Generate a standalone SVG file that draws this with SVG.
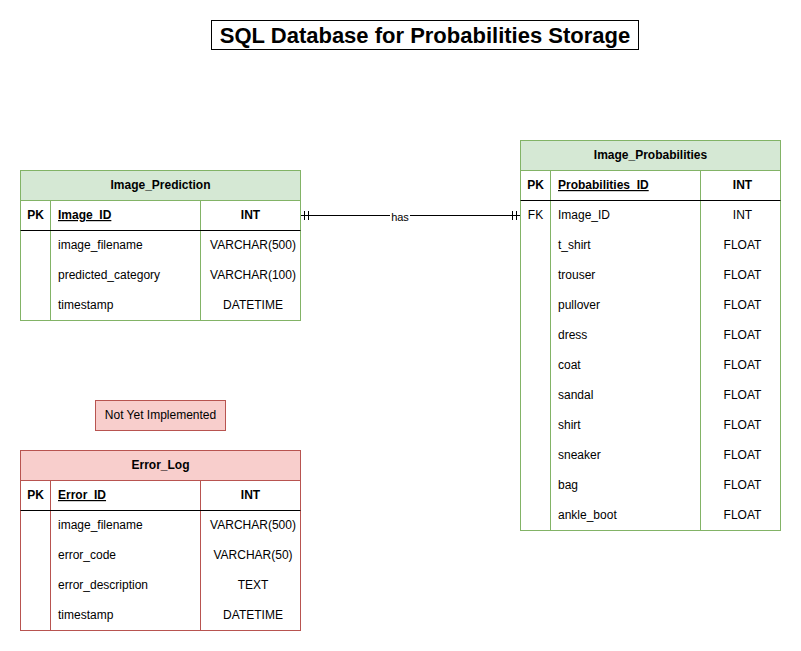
<svg xmlns="http://www.w3.org/2000/svg" width="801" height="651" viewBox="0 0 801 651">
<style>
text{font-family:"Liberation Sans",Arial,sans-serif;font-size:12px;fill:#000}
.b{font-weight:bold}
.c{text-anchor:middle}
.u{text-decoration:underline}
.g{fill:#fff;stroke:#82b366;stroke-width:1}
.gh{fill:#d5e8d4;stroke:#82b366;stroke-width:1}
.r{fill:#fff;stroke:#b85450;stroke-width:1}
.rh{fill:#f8cecc;stroke:#b85450;stroke-width:1}
.sg{stroke:#82b366;stroke-width:1}
.sr{stroke:#b85450;stroke-width:1}
.k{stroke:#000;stroke-width:1}
.t{font-size:22px;font-weight:bold}
</style>
<rect width="801" height="651" fill="#fff"/>
<g id="title">
<rect x="211.5" y="20.5" width="427" height="29" fill="#fff" stroke="#000"/>
<text x="425" y="42.5" class="t c">SQL Database for Probabilities Storage</text>
</g>
<g id="connectors">
<line x1="300.5" y1="215.5" x2="520.5" y2="215.5" stroke="#000"/>
<line x1="304.5" y1="211" x2="304.5" y2="220" stroke="#000"/>
<line x1="308.5" y1="211" x2="308.5" y2="220" stroke="#000"/>
<line x1="512.5" y1="211" x2="512.5" y2="220" stroke="#000"/>
<line x1="516.5" y1="211" x2="516.5" y2="220" stroke="#000"/>
<rect x="390" y="210" width="20" height="12" fill="#fff"/>
<text x="400" y="221" class="c" style="font-size:11px">has</text>
</g>
<g id="image_prediction">
<rect x="20.5" y="170.5" width="280" height="150" class="g"/>
<rect x="20.5" y="170.5" width="280" height="30" class="gh"/>
<text x="160.5" y="189" class="b c">Image_Prediction</text>
<line x1="50.5" y1="200.5" x2="50.5" y2="320.5" class="sg"/>
<line x1="200.5" y1="200.5" x2="200.5" y2="320.5" class="sg"/>
<line x1="20.5" y1="230.5" x2="300.5" y2="230.5" class="k"/>
<text x="35.5" y="219" class="b c">PK</text>
<text x="58" y="219" class="b u">Image_ID</text>
<text x="250.5" y="219" class="b c">INT</text>
<text x="58" y="249">image_filename</text>
<text x="253" y="249" class="c">VARCHAR(500)</text>
<text x="58" y="279">predicted_category</text>
<text x="253" y="279" class="c">VARCHAR(100)</text>
<text x="58" y="309">timestamp</text>
<text x="253" y="309" class="c">DATETIME</text>
</g>
<g id="image_probabilities">
<rect x="520.5" y="140.5" width="260" height="390" class="g"/>
<rect x="520.5" y="140.5" width="260" height="30" class="gh"/>
<text x="650.5" y="159" class="b c">Image_Probabilities</text>
<line x1="550.5" y1="170.5" x2="550.5" y2="530.5" class="sg"/>
<line x1="700.5" y1="170.5" x2="700.5" y2="530.5" class="sg"/>
<line x1="520.5" y1="200.5" x2="780.5" y2="200.5" class="k"/>
<text x="535.5" y="189" class="b c">PK</text>
<text x="558" y="189" class="b u">Probabilities_ID</text>
<text x="742.5" y="189" class="b c">INT</text>
<text x="535.5" y="219" class="c">FK</text>
<text x="558" y="219">Image_ID</text>
<text x="742.5" y="219" class="c">INT</text>
<text x="558" y="249">t_shirt</text>
<text x="742.5" y="249" class="c">FLOAT</text>
<text x="558" y="279">trouser</text>
<text x="742.5" y="279" class="c">FLOAT</text>
<text x="558" y="309">pullover</text>
<text x="742.5" y="309" class="c">FLOAT</text>
<text x="558" y="339">dress</text>
<text x="742.5" y="339" class="c">FLOAT</text>
<text x="558" y="369">coat</text>
<text x="742.5" y="369" class="c">FLOAT</text>
<text x="558" y="399">sandal</text>
<text x="742.5" y="399" class="c">FLOAT</text>
<text x="558" y="429">shirt</text>
<text x="742.5" y="429" class="c">FLOAT</text>
<text x="558" y="459">sneaker</text>
<text x="742.5" y="459" class="c">FLOAT</text>
<text x="558" y="489">bag</text>
<text x="742.5" y="489" class="c">FLOAT</text>
<text x="558" y="519">ankle_boot</text>
<text x="742.5" y="519" class="c">FLOAT</text>
</g>
<g id="not_yet_implemented">
<rect x="95.5" y="400.5" width="130" height="30" class="rh"/>
<text x="160.5" y="419" class="c">Not Yet Implemented</text>
</g>
<g id="error_log">
<rect x="20.5" y="450.5" width="280" height="180" class="r"/>
<rect x="20.5" y="450.5" width="280" height="30" class="rh"/>
<text x="160.5" y="469" class="b c">Error_Log</text>
<line x1="50.5" y1="480.5" x2="50.5" y2="630.5" class="sr"/>
<line x1="200.5" y1="480.5" x2="200.5" y2="630.5" class="sr"/>
<line x1="20.5" y1="510.5" x2="300.5" y2="510.5" class="k"/>
<text x="35.5" y="499" class="b c">PK</text>
<text x="58" y="499" class="b u">Error_ID</text>
<text x="250.5" y="499" class="b c">INT</text>
<text x="58" y="529">image_filename</text>
<text x="253" y="529" class="c">VARCHAR(500)</text>
<text x="58" y="559">error_code</text>
<text x="253" y="559" class="c">VARCHAR(50)</text>
<text x="58" y="589">error_description</text>
<text x="253" y="589" class="c">TEXT</text>
<text x="58" y="619">timestamp</text>
<text x="253" y="619" class="c">DATETIME</text>
</g>
</svg>
